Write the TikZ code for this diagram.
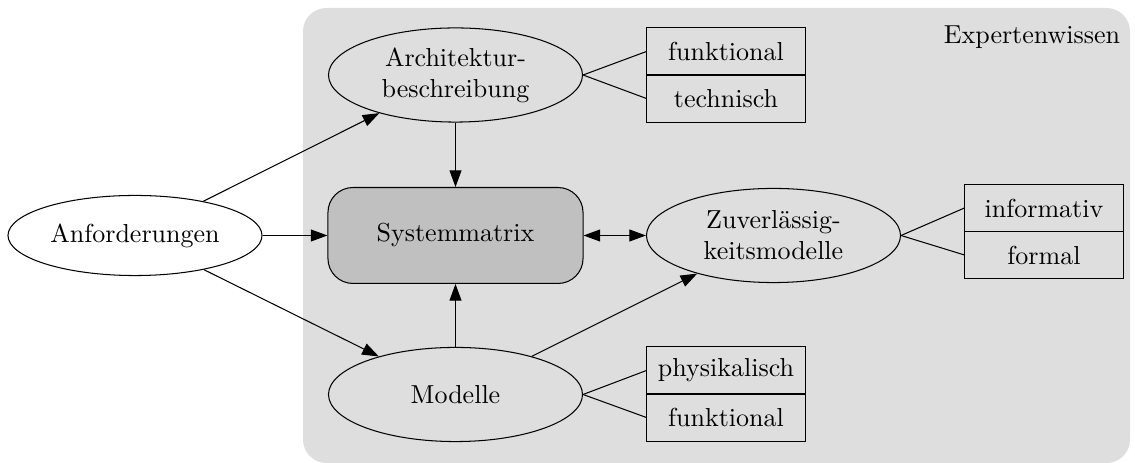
\documentclass[tikz,border=0pt]{standalone}
\usepackage{xcolor}
\usepackage{tikz}
\usetikzlibrary{arrows.meta,shapes.geometric}
\definecolor{bggray}{HTML}{DEDEDE}
\definecolor{matgray}{HTML}{C0C0C0}
\tikzset{
  ell/.style     = {ellipse, draw, inner sep=0pt, align=center,
                    minimum width=97.7pt, minimum height=36.2pt},
  matbox/.style  = {draw, fill=matgray, rounded corners=9.6pt, align=center,
                    minimum width=98.1pt, minimum height=36.9pt},
  subbox/.style  = {draw, rectangle, inner sep=0pt,
                    minimum width=60.8pt, minimum height=18.1pt},
  flow/.style    = {-{Triangle[length=6.4pt,width=4.6pt]}},
  biflow/.style  = {{Triangle[length=6.4pt,width=4.6pt]}-{Triangle[length=6.4pt,width=4.6pt]}}
}
\begin{document}
\begin{tikzpicture}[x=0.3846pt,y=-0.3846pt]
  \useasboundingbox (0,0) rectangle (1135,463);
  % expert knowledge area
  \fill[bggray,rounded corners=9pt] (303,8) rectangle (1130,463);
  \node (expert) at (1032,37) {Expertenwissen};
  % main nodes
  \node[ell,fill=white,minimum height=30.8pt] (anf) at (135,235.5) {Anforderungen};
  \node[ell] (arch) at (455.5,75) {Architektur-\\beschreibung};
  \node[matbox] (sys) at (455.5,235.5) {Systemmatrix};
  \node[ell] (zuv) at (773.5,235.5) {Zuverl\"assig-\\keitsmodelle};
  \node[ell] (mod) at (455.5,394.5) {Modelle};
  % sub-categories
  \node[subbox] (archF) at (726,51.5) {funktional};
  \node[subbox] (archT) at (726,98.5) {technisch};
  \node[subbox] (zuvI) at (1044,208) {informativ};
  \node[subbox] (zuvF) at (1044,255) {formal};
  \node[subbox] (modP) at (726,370.5) {physikalisch};
  \node[subbox] (modF) at (726,417.5) {funktional};
  \draw (arch.east) -- (archF.west);
  \draw (arch.east) -- (archT.west);
  \draw (zuv.east) -- (zuvI.west);
  \draw (zuv.east) -- (zuvF.west);
  \draw (mod.east) -- (modP.west);
  \draw (mod.east) -- (modF.west);
  % flows
  \draw[flow] (anf) -- (arch);
  \draw[flow] (anf) -- (sys);
  \draw[flow] (anf) -- (mod);
  \draw[flow] (arch) -- (sys);
  \draw[flow] (mod) -- (sys);
  \draw[flow] (mod) -- (zuv);
  \draw[biflow] (sys) -- (zuv);
\end{tikzpicture}
\end{document}
